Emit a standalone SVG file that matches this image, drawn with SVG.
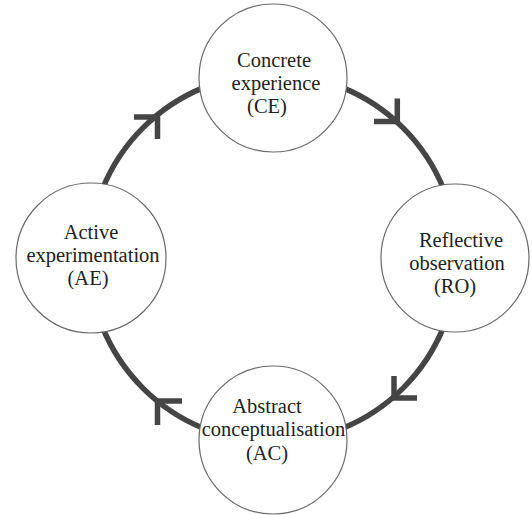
<svg xmlns="http://www.w3.org/2000/svg" width="532" height="515" viewBox="0 0 532 515">
  <style>
    .ring { fill: none; stroke: #454545; stroke-width: 5.5; }
    .head { fill: none; stroke: #454545; stroke-width: 5.5; stroke-linecap: butt; stroke-linejoin: miter; }
    .node circle { fill: #ffffff; stroke: #6a6a6a; stroke-width: 1.2; }
    .node text { font-family: 'Liberation Serif', 'Times New Roman', 'DejaVu Serif', serif; font-size: 20.5px; fill: #222222; text-anchor: middle; }
  </style>
  <rect width="532" height="515" fill="#ffffff"/>
  <g id="connectors">
    <path class="ring" d="M 341.9 87.4 A 184 184 0 0 1 443.6 189.1"/>
    <path class="ring" d="M 443.6 326.9 A 184 184 0 0 1 341.9 428.6"/>
    <path class="ring" d="M 204.1 428.6 A 184 184 0 0 1 102.4 326.9"/>
    <path class="ring" d="M 102.4 189.1 A 184 184 0 0 1 204.1 87.4"/>
    <polyline class="head" points="374,121.5 397.3,121.5 397.3,98.5"/>
    <polyline class="head" points="394,376 394,398 417,398"/>
    <polyline class="head" points="182,401 157.5,401 157.5,425"/>
    <polyline class="head" points="157.5,139 157.5,117 134,117"/>
  </g>
  <g id="CE" class="node" font-family="Liberation Serif, serif">
    <circle cx="273" cy="78" r="74"/>
    <text x="274" y="67">Concrete</text>
    <text x="276" y="90">experience</text>
    <text x="267" y="113">(CE)</text>
  </g>
  <g id="RO" class="node" font-family="Liberation Serif, serif">
    <circle cx="455" cy="258" r="74"/>
    <text x="461" y="247">Reflective</text>
    <text x="457" y="270">observation</text>
    <text x="455" y="293">(RO)</text>
  </g>
  <g id="AC" class="node" font-family="Liberation Serif, serif">
    <circle cx="273" cy="440" r="74"/>
    <text x="267" y="413">Abstract</text>
    <text x="273.5" y="436">conceptualisation</text>
    <text x="267" y="460">(AC)</text>
  </g>
  <g id="AE" class="node" font-family="Liberation Serif, serif">
    <circle cx="91" cy="258" r="75"/>
    <text x="91" y="239">Active</text>
    <text x="93" y="262">experimentation</text>
    <text x="88" y="285">(AE)</text>
  </g>
</svg>
